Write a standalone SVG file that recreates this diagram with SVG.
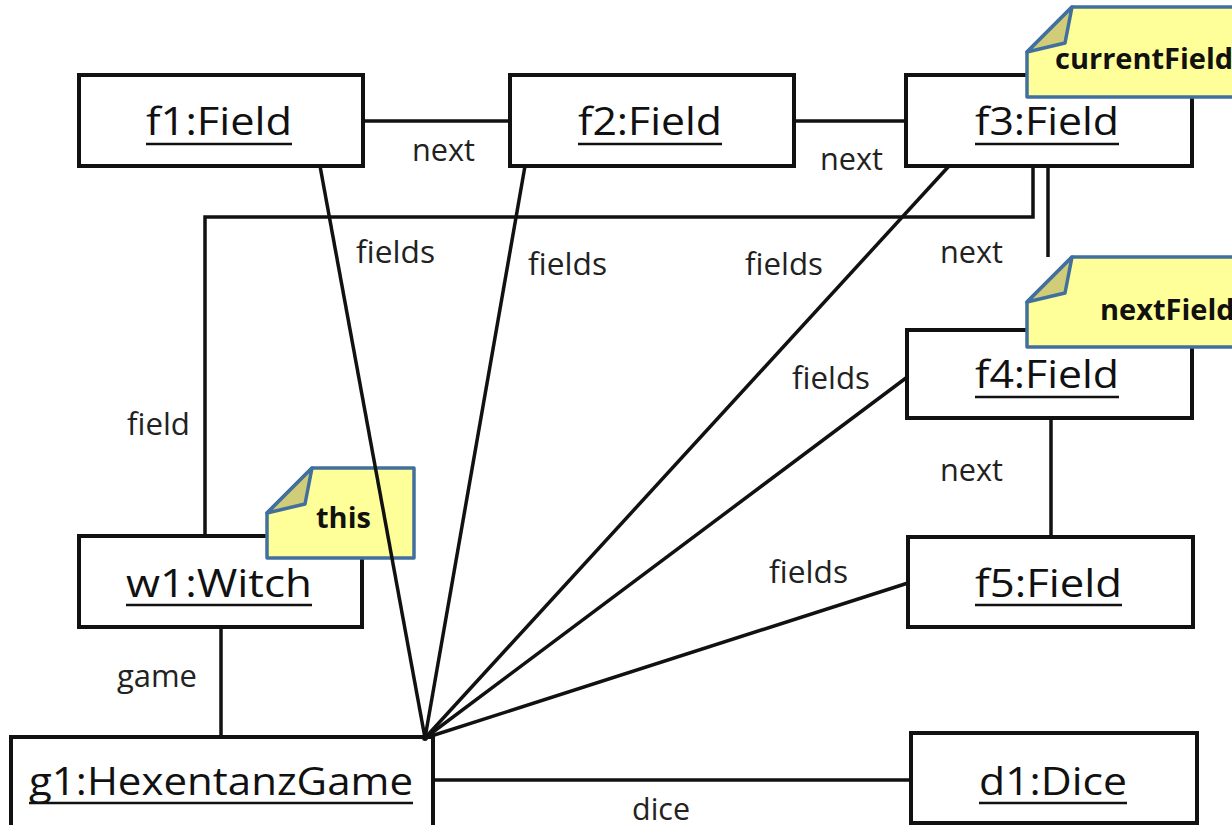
<svg xmlns="http://www.w3.org/2000/svg" width="1232" height="825" viewBox="0 0 1232 825">
<style>
.box{fill:#fff;stroke:#111;stroke-width:4}
.name{font-family:"Open Sans","Liberation Sans",sans-serif;font-size:39px;fill:#111}
.ul{stroke:#111;stroke-width:2.5}
.con{stroke:#111;stroke-width:3.5;fill:none}
.lbl{font-family:"Open Sans","Liberation Sans",sans-serif;font-size:31px;fill:#222}
.note{fill:#ffff99;stroke:#41709e;stroke-width:3.5;stroke-linejoin:round}
.fold{fill:#d0cc78;stroke:#41709e;stroke-width:3.5;stroke-linejoin:round}
.ntxt{font-family:"Open Sans","Liberation Sans",sans-serif;font-size:29px;font-weight:bold;fill:#111}
</style>
<rect width="1232" height="825" fill="#fff"/>
<g id="f1">
<rect class="box" x="79" y="75" width="284" height="91"/>
<text class="name" x="146" y="135" textLength="146" lengthAdjust="spacingAndGlyphs">f1:Field</text>
<line class="ul" x1="146" y1="144" x2="292" y2="144"/>
</g>
<g id="f2">
<rect class="box" x="510" y="75" width="284" height="91"/>
<text class="name" x="578" y="135" textLength="144" lengthAdjust="spacingAndGlyphs">f2:Field</text>
<line class="ul" x1="578" y1="144" x2="722" y2="144"/>
</g>
<g id="f3">
<rect class="box" x="906" y="75" width="286" height="91"/>
<text class="name" x="975" y="135" textLength="144" lengthAdjust="spacingAndGlyphs">f3:Field</text>
<line class="ul" x1="975" y1="144" x2="1119" y2="144"/>
</g>
<g id="f4">
<rect class="box" x="907" y="330" width="285" height="88"/>
<text class="name" x="975" y="388" textLength="144" lengthAdjust="spacingAndGlyphs">f4:Field</text>
<line class="ul" x1="975" y1="397" x2="1119" y2="397"/>
</g>
<g id="f5">
<rect class="box" x="908" y="537" width="285" height="90"/>
<text class="name" x="975" y="597" textLength="147" lengthAdjust="spacingAndGlyphs">f5:Field</text>
<line class="ul" x1="975" y1="605" x2="1122" y2="605"/>
</g>
<g id="w1">
<rect class="box" x="79" y="536" width="283" height="91"/>
<text class="name" x="126" y="597" textLength="186" lengthAdjust="spacingAndGlyphs">w1:Witch</text>
<line class="ul" x1="126" y1="605" x2="312" y2="605"/>
</g>
<g id="g1">
<rect class="box" x="11" y="737" width="422" height="95"/>
<text class="name" x="29" y="795" textLength="384" lengthAdjust="spacingAndGlyphs">g1:HexentanzGame</text>
<line class="ul" x1="29" y1="803" x2="413" y2="803"/>
</g>
<g id="d1">
<rect class="box" x="911" y="733" width="286" height="90"/>
<text class="name" x="979" y="795" textLength="148" lengthAdjust="spacingAndGlyphs">d1:Dice</text>
<line class="ul" x1="979" y1="803" x2="1127" y2="803"/>
</g>
<g id="note-currentField">
<polygon class="note" points="1072,7 1240,7 1240,97 1027,97 1027,52"/>
<polygon class="fold" points="1072,7 1065,43 1027,52"/>
<text class="ntxt" x="1055" y="69">currentField</text>
</g>
<g id="note-nextField">
<polygon class="note" points="1072,257 1240,257 1240,347 1027,347 1027,302"/>
<polygon class="fold" points="1072,257 1065,293 1027,302"/>
<text class="ntxt" x="1100" y="320">nextField</text>
</g>
<g id="note-this">
<polygon class="note" points="312,468 414,468 414,558 267,558 267,513"/>
<polygon class="fold" points="312,468 305,504 267,513"/>
<text class="ntxt" x="316" y="528">this</text>
</g>
<g id="connectors">
<path class="con" d="M363 121H510"/>
<path class="con" d="M794 121H906"/>
<path class="con" d="M1048 166V257"/>
<path class="con" d="M1051 418V537"/>
<path class="con" d="M1033 166V217H205V536"/>
<path class="con" d="M221 627V737"/>
<path class="con" d="M433 780H911"/>
<path class="con" d="M425 738L320 166"/>
<path class="con" d="M425 738L525 166"/>
<path class="con" d="M425 738L949 166"/>
<path class="con" d="M425 738L906 378"/>
<path class="con" d="M425 738L908 583"/>
<circle cx="425" cy="738" r="3" fill="#111"/>
</g>
<g id="labels">
<text class="lbl" x="412" y="161" textLength="63" lengthAdjust="spacingAndGlyphs">next</text>
<text class="lbl" x="820" y="170" textLength="63" lengthAdjust="spacingAndGlyphs">next</text>
<text class="lbl" x="940" y="263" textLength="63" lengthAdjust="spacingAndGlyphs">next</text>
<text class="lbl" x="940" y="481" textLength="63" lengthAdjust="spacingAndGlyphs">next</text>
<text class="lbl" x="356" y="263" textLength="79" lengthAdjust="spacingAndGlyphs">fields</text>
<text class="lbl" x="528" y="275" textLength="79" lengthAdjust="spacingAndGlyphs">fields</text>
<text class="lbl" x="745" y="275" textLength="78" lengthAdjust="spacingAndGlyphs">fields</text>
<text class="lbl" x="792" y="389" textLength="78" lengthAdjust="spacingAndGlyphs">fields</text>
<text class="lbl" x="769" y="583" textLength="79" lengthAdjust="spacingAndGlyphs">fields</text>
<text class="lbl" x="127" y="435" textLength="63" lengthAdjust="spacingAndGlyphs">field</text>
<text class="lbl" x="117" y="687" textLength="80" lengthAdjust="spacingAndGlyphs">game</text>
<text class="lbl" x="632" y="820" textLength="58" lengthAdjust="spacingAndGlyphs">dice</text>
</g>
</svg>
